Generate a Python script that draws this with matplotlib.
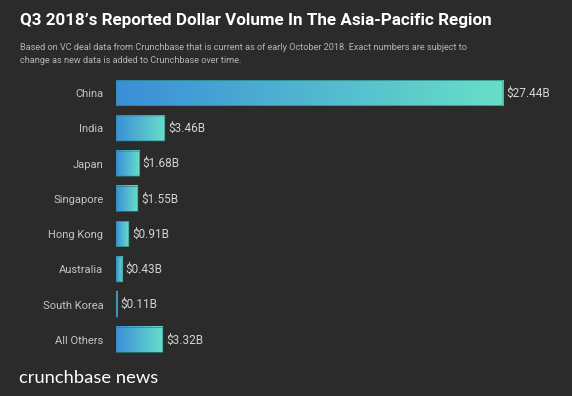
import numpy as np
import matplotlib.pyplot as plt
from matplotlib.colors import LinearSegmentedColormap
from matplotlib.patches import Rectangle

countries = ['China', 'India', 'Japan', 'Singapore', 'Hong Kong',
             'Australia', 'South Korea', 'All Others']
volumes = [27.44, 3.46, 1.68, 1.55, 0.91, 0.43, 0.11, 3.32]
labels = ['$27.44B', '$3.46B', '$1.68B', '$1.55B', '$0.91B',
          '$0.43B', '$0.11B', '$3.32B']

bg = '#2b2b2b'
cmap = LinearSegmentedColormap.from_list('cb', ['#3a8ed8', '#68dfc8'])
grad = np.linspace(0, 1, 256).reshape(1, -1)

plt.rcParams['font.family'] = ['Roboto', 'DejaVu Sans']
fig = plt.figure(figsize=(5.72, 3.96), dpi=100, facecolor=bg)
ax = fig.add_axes([116 / 572, 1 - 361 / 396, 444 / 572, 289 / 396])
ax.set_facecolor(bg)

h = 0.71
for i, (v, lab) in enumerate(zip(volumes, labels)):
    ax.imshow(grad, cmap=cmap, aspect='auto', interpolation='bilinear',
              extent=[0, v, i + h / 2, i - h / 2], zorder=2)
    ax.add_patch(Rectangle((0, i - h / 2), v, h, fill=False, snap=False,
                           edgecolor='#2c8580', lw=0.5, zorder=3))
    ax.text(v + 0.22, i, lab, va='center', ha='left', color='#d4d4d4',
            fontsize=8.5)

ax.set_xlim(0, 27.44 * 444 / 387)
ax.set_ylim(len(countries) - 0.4, -0.6)
ax.set_yticks(range(len(countries)))
ax.set_yticklabels(countries, color='#c4c4c4', fontsize=8)
ax.tick_params(axis='y', length=0, pad=9)
ax.set_xticks([])
for s in ax.spines.values():
    s.set_visible(False)

fig.text(20 / 572, 1 - 20 / 396, "Q3 2018\u2019s Reported Dollar Volume In The Asia-Pacific Region",
         color='white', fontsize=12.25, fontweight='bold', va='center', ha='left')
fig.text(20 / 572, 1 - 54 / 396,
         "Based on VC deal data from Crunchbase that is current as of early October 2018. Exact numbers are subject to\n"
         "change as new data is added to Crunchbase over time.",
         color='#b4b4b4', fontsize=6.6, va='center', ha='left', linespacing=1.45)
fig.text(19 / 572, 1 - 378 / 396, "crunchbase news", color='white',
         fontsize=13.2, va='center', ha='left', family=['Lato', 'DejaVu Sans'])

fig.savefig('out.png', dpi=100, facecolor=bg)
